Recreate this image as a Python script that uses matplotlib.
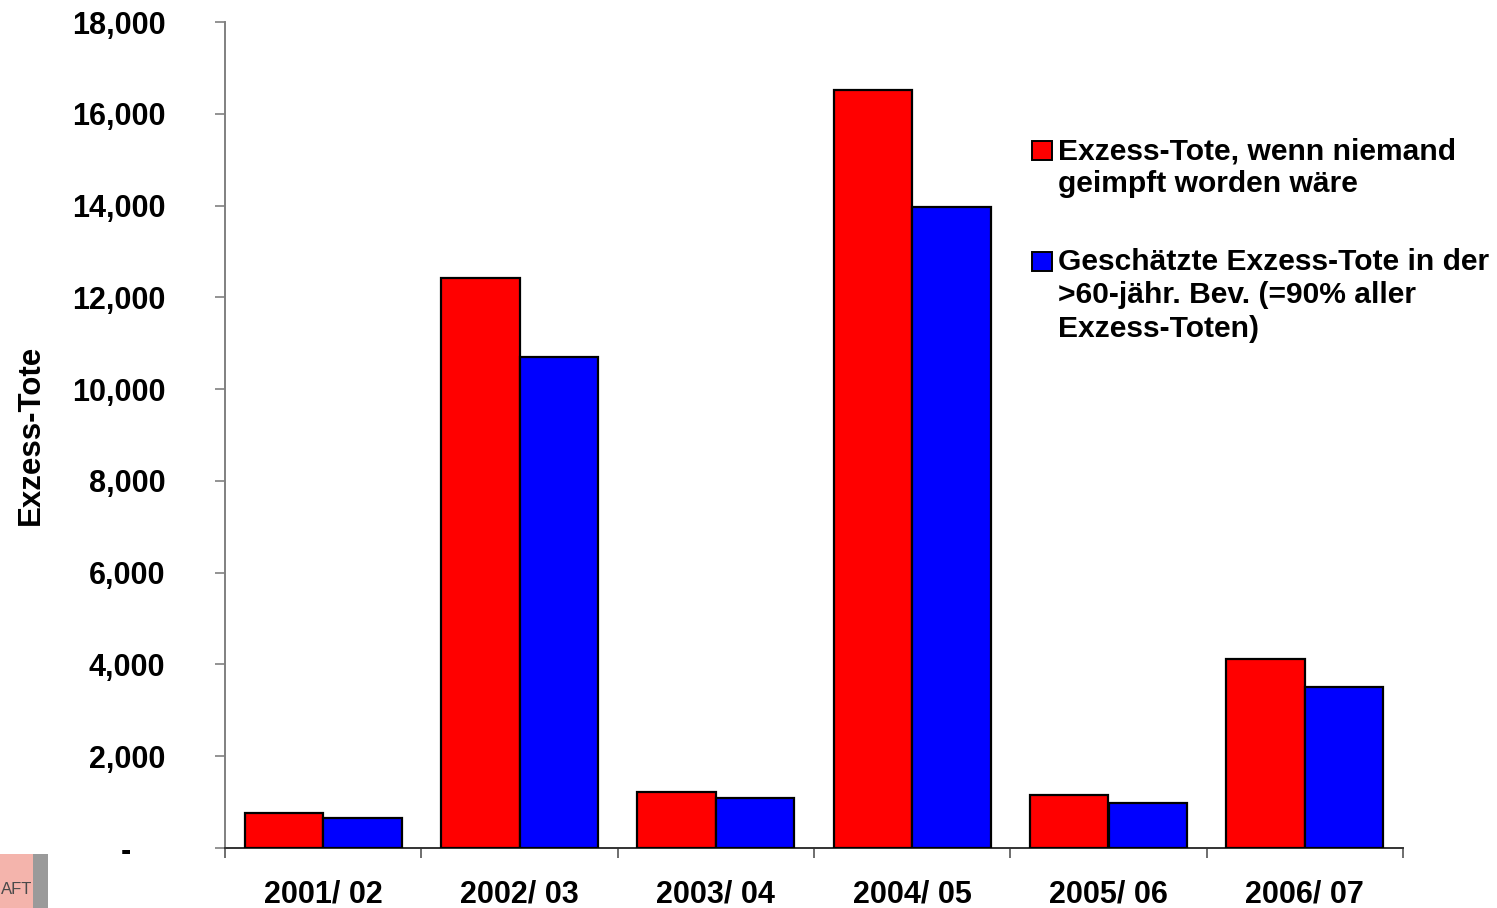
import numpy as np
import matplotlib
matplotlib.use('Agg')
import matplotlib.pyplot as plt
from matplotlib.patches import Rectangle
from matplotlib.ticker import FuncFormatter, FixedLocator

# data
seasons = ['2001/ 02', '2002/ 03', '2003/ 04', '2004/ 05', '2005/ 06', '2006/ 07']
deaths_no_vacc = [760, 12420, 1220, 16520, 1160, 4110]
deaths_over60 = [650, 10690, 1090, 13960, 980, 3510]
legend_labels = ['Exzess-Tote, wenn niemand\ngeimpft worden wäre',
                 'Geschätzte Exzess-Tote in der\n>60-jähr. Bev. (=90% aller\nExzess-Toten)']

plt.rcParams['font.family'] = ['Liberation Sans', 'DejaVu Sans']
plt.rcParams['font.weight'] = 'bold'
font_size = 22

W, H = 1497, 908
fig = plt.figure(figsize=(W / 100, H / 100), dpi=100)
ax = fig.add_axes([225 / W, 1 - 848 / H, (1403 - 225) / W, (848 - 22) / H])

x = np.arange(len(seasons))
width = 0.4
ax.bar(x - width / 2, deaths_no_vacc, width, color='#ff0000', edgecolor='black', linewidth=1.6, zorder=3)
ax.bar(x + width / 2, deaths_over60, width, color='#0000ff', edgecolor='black', linewidth=1.6, zorder=3)

ax.set_xlim(-0.5, len(seasons) - 0.5)
ax.set_ylim(0, 18000)
ax.set_yticks(np.arange(0, 18001, 2000))
ax.yaxis.set_major_formatter(FuncFormatter(lambda v, p: '-    ' if v == 0 else '{:,.0f}'.format(v)))

# ticks between categories, labels at category centres
ax.xaxis.set_major_locator(FixedLocator(np.arange(-0.5, len(seasons), 1.0)))
ax.xaxis.set_minor_locator(FixedLocator(x))
ax.set_xticklabels([''] * (len(seasons) + 1))
ax.set_xticklabels(seasons, minor=True)
ax.tick_params(axis='x', which='major', direction='out', length=7, width=1.2, color='#555555')
ax.tick_params(axis='x', which='minor', length=0, pad=23, labelsize=font_size)
ax.tick_params(axis='y', direction='out', length=7, width=1.2, color='#808080', pad=36, labelsize=font_size)

for side in ['top', 'right']:
    ax.spines[side].set_visible(False)
ax.spines['left'].set_color('#808080')
ax.spines['left'].set_linewidth(1.4)
ax.spines['bottom'].set_color('#333333')
ax.spines['bottom'].set_linewidth(1.4)

ax.set_ylabel('Exzess-Tote', fontsize=22.5, fontweight='bold', va='center')
ax.yaxis.set_label_coords((31 - 225) / (1403 - 225), 0.5)

# legend drawn by hand so the squares sit on the first line of each label
leg_colors = ['#ff0000', '#0000ff']
leg_tops = [141, 252]
for col, top, lab in zip(leg_colors, leg_tops, legend_labels):
    fig.patches.append(Rectangle((1032 / W, 1 - (top + 19) / H), 20 / W, 19 / H,
                                 transform=fig.transFigure, facecolor=col,
                                 edgecolor='black', linewidth=1.4))
    fig.text(1058 / W, 1 - (top - 4) / H, lab, fontsize=21.6, fontweight='bold',
             va='top', ha='left', linespacing=1.24)

# leftover image fragment in the lower left corner
fig.patches.append(Rectangle((0, 0), 33 / W, 54 / H, transform=fig.transFigure,
                             facecolor='#f4b4ac', edgecolor='none'))
fig.patches.append(Rectangle((33 / W, 0), 15 / W, 54 / H, transform=fig.transFigure,
                             facecolor='#9a9a9a', edgecolor='none'))
fig.text(1 / W, 1 - 890 / H, 'AFT', fontsize=12, fontweight='normal', color='#4a4a4a',
         va='center', ha='left')

fig.savefig('out.png', dpi=100)
